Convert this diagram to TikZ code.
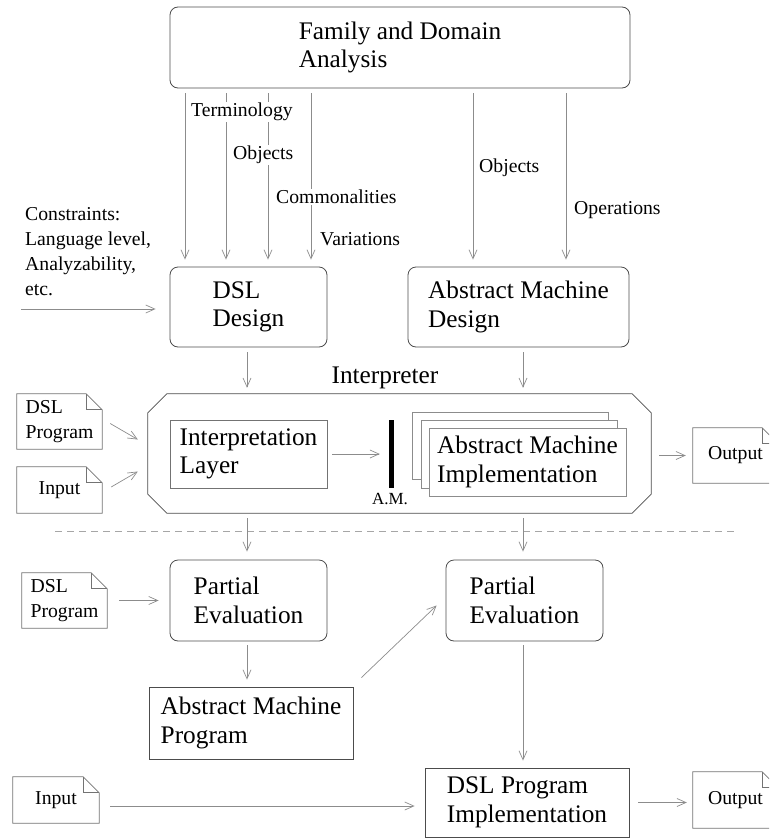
\documentclass[tikz,border=0pt]{standalone}
\usepackage{fontspec}
\setmainfont{Liberation Serif}
\usetikzlibrary{arrows.meta}
\newcommand\bigtxt{\fontsize{25.3}{28.5}\selectfont}
\newcommand\smalltxt{\fontsize{19.7}{25}\selectfont}
\tikzset{
  boxline/.style={draw=black!70, line width=0.8pt},
  rbox/.style={boxline, rounded corners=8pt, align=left, inner sep=0pt, font=\bigtxt},
  sbox/.style={boxline, align=left, inner sep=0pt, font=\bigtxt},
  lightbox/.style={draw=black!45, line width=0.8pt, fill=white, align=left, inner sep=0pt, font=\bigtxt},
  conn/.style={draw=black!45, line width=0.7pt, -{Straight Barb[length=9pt,width=8pt]}, shorten <=5pt, shorten >=7pt},
  lbl/.style={font=\smalltxt, fill=white, inner sep=1pt, anchor=west},
  docnode/.style={minimum width=85pt, inner sep=0pt, align=left, font=\smalltxt},
  docline/.style={draw=black!55, line width=0.7pt},
}
\newcommand\docframe[1]{%
  \draw[docline] (#1.south west) -- (#1.north west) -- ([xshift=-16pt]#1.north east)
    -- ([yshift=-16pt]#1.north east) -- (#1.south east) -- cycle;
  \draw[docline] ([xshift=-16pt]#1.north east) -- ([xshift=-16pt,yshift=-16pt]#1.north east)
    -- ([yshift=-16pt]#1.north east);}
\begin{document}
\begin{tikzpicture}[x=1pt,y=-1pt]
\useasboundingbox (0,0) rectangle (769,838);
\clip (0,0) rectangle (769,838);

% column helpers
\coordinate (cA) at (185,0);
\coordinate (cB) at (226,0);
\coordinate (cC) at (268,0);
\coordinate (cD) at (311,0);
\coordinate (cE) at (473,0);
\coordinate (cF) at (566,0);
\coordinate (colL) at (247,0);
\coordinate (colR) at (523,0);

% top box
\node[rbox, minimum width=460pt, minimum height=81pt] (fda) at (400,47.5) {Family and Domain\\Analysis};

% design boxes
\node[rbox, minimum width=157pt, minimum height=80pt] (dsl) at (248.5,307) {DSL\\Design};
\node[rbox, minimum width=221pt, minimum height=80pt] (amd) at (518.5,307) {Abstract Machine\\Design};

% constraints
\node[font=\smalltxt, align=left, anchor=north west, inner sep=0pt] (cons) at (25,207) {Constraints:\\Language level,\\Analyzability,\\etc.};
\coordinate (consin) at (21,309);

% labels on top arrows
\draw[conn] (fda.south -| cA) -- (dsl.north -| cA);
\draw[conn] (fda.south -| cB) -- (dsl.north -| cB);
\draw[conn] (fda.south -| cC) -- (dsl.north -| cC);
\draw[conn] (fda.south -| cD) -- (dsl.north -| cD);
\draw[conn] (fda.south -| cE) -- (amd.north -| cE);
\draw[conn] (fda.south -| cF) -- (amd.north -| cF);
\node[lbl] (lTerm) at (190,112) {Terminology};
\node[lbl] (lObj) at (232,155) {Objects};
\node[lbl] (lCom) at (275,197) {Commonalities};
\node[lbl] (lVar) at (319,239) {Variations};
\node[lbl] (lObj2) at (478,168) {Objects};
\node[lbl] (lOps) at (573,210) {Operations};

\draw[conn, shorten <=0pt, shorten >=14pt] (consin) -- (dsl.west |- consin);

% interpreter
\node[font=\bigtxt, inner sep=0pt] (interplbl) at (385,378) {Interpreter};
\node[minimum width=503pt, minimum height=119pt, inner sep=0pt] (interp) at (399.5,453.5) {};
\draw[boxline] ([xshift=19pt]interp.north west) -- ([xshift=-19pt]interp.north east)
  -- ([yshift=-19pt]interp.north east) -- ([yshift=19pt]interp.south east)
  -- ([xshift=-19pt]interp.south east) -- ([xshift=19pt]interp.south west)
  -- ([yshift=19pt]interp.south west) -- ([yshift=-19pt]interp.north west) -- cycle;

\node[lightbox, draw=black!55, minimum width=157pt, minimum height=68pt] (il) at (248.5,454) {Interpretation\\Layer};
\node[fill=black, minimum width=5pt, minimum height=68pt, inner sep=0pt] (am) at (391,454) {};
\node[font=\fontsize{17}{20}\selectfont, inner sep=0pt] (amlbl) at (390,499) {A.M.};
\node[lightbox, minimum width=196pt, minimum height=67pt] (st1) at (510,445.5) {};
\node[lightbox, minimum width=196pt, minimum height=68pt] (st2) at (519,454) {};
\node[lightbox, minimum width=197pt, minimum height=68pt] (st3) at (527.5,462) {Abstract Machine\\Implementation};

\draw[conn, shorten >=8.5pt] (il.east) -- (am.west |- il.east);

\draw[conn, shorten <=5pt, shorten >=6pt] (dsl.south -| colL) -- (interp.north -| colL);
\draw[conn, shorten <=5pt, shorten >=6pt] (amd.south -| colR) -- (interp.north -| colR);

% docs in interpreter row
\node[docnode, minimum height=55pt] (dslp1) at (59.5,421.5) {DSL\\Program};
\docframe{dslp1}
\node[docnode, minimum height=46pt] (in1) at (59.5,490) {Input};
\docframe{in1}
\node[docnode, minimum height=55pt] (out1) at (735.5,455.5) {Output};
\docframe{out1}

\draw[conn, shorten <=0pt, shorten >=0pt] ([shift={(8,2)}]dslp1.east) -- ([shift={(-10,-14)}]interp.west);
\draw[conn, shorten <=0pt, shorten >=0pt] ([shift={(9,-3)}]in1.east) -- ([shift={(-10,18)}]interp.west);
\draw[conn, shorten <=8pt, shorten >=7pt] (interp.east |- out1.west) -- (out1.west);

% dashed separator
\draw[draw=black!35, line width=0.7pt, dash pattern=on 7pt off 5pt] (55,531) -- (736,531);

% partial evaluation row
\node[rbox, minimum width=157pt, minimum height=81pt] (pe1) at (248.5,600.5) {Partial\\Evaluation};
\node[rbox, minimum width=157pt, minimum height=81pt] (pe2) at (524.5,600.5) {Partial\\Evaluation};
\draw[conn, shorten <=5pt, shorten >=8pt] (interp.south -| colL) -- (pe1.north -| colL);
\draw[conn, shorten <=5pt, shorten >=8pt] (interp.south -| colR) -- (pe2.north -| colR);

\node[docnode, minimum height=55pt] (dslp2) at (64.5,600.5) {DSL\\Program};
\docframe{dslp2}
\draw[conn, shorten <=12pt, shorten >=11pt] (dslp2.east) -- (pe1.west |- dslp2.east);

\node[sbox, minimum width=204pt, minimum height=72pt] (amp) at (251,723) {Abstract Machine\\Program};
\draw[conn, shorten <=4pt, shorten >=7pt] (pe1.south -| colL) -- (amp.north -| colL);
\draw[conn, shorten <=0pt, shorten >=0pt] ([shift={(8,-9)}]amp.north east) -- ([shift={(-9,5)}]pe2.west);

% bottom row
\node[sbox, minimum width=204pt, minimum height=69pt] (dslpi) at (527,802.5) {DSL Program\\Implementation};
\draw[conn, shorten <=4pt, shorten >=7pt] (pe2.south -| colR) -- (dslpi.north -| colR);

\node[docnode, minimum height=46pt, minimum width=86pt] (in2) at (56,800) {Input};
\docframe{in2}
\coordinate (inarrow) at ([yshift=-6pt]in2.east);
\draw[conn, shorten <=11pt, shorten >=10pt] (inarrow) -- (inarrow -| dslpi.west);

\node[docnode, minimum height=56pt] (out2) at (735.5,800) {Output};
\docframe{out2}
\draw[conn, shorten <=9pt, shorten >=6pt] (dslpi.east) -- (out2.west |- dslpi.east);
\end{tikzpicture}
\end{document}
